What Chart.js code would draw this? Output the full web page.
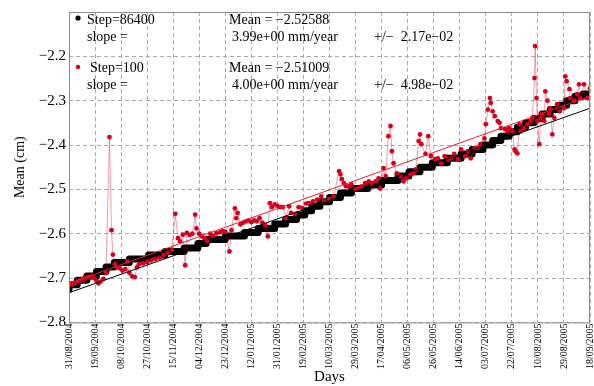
<!DOCTYPE html>
<html lang="en">
<head>
  <meta charset="UTF-8" />
  <title>Mean (cm) vs Days</title>
  <style>
    body, html { margin: 0; padding: 0; background: #fff; }
    #wrap { position: relative; width: 594px; height: 386px; }
  </style>
  <script src="https://cdn.jsdelivr.net/npm/chart.js"></script>
</head>
<body>
<div id="wrap"><canvas id="meanChart"></canvas></div>

<script>
  // tick labels (one every 19 days from 31/08/2004)
  const dateLabels = ['31/08/2004', '19/09/2004', '08/10/2004', '27/10/2004', '15/11/2004',
    '04/12/2004', '23/12/2004', '12/01/2005', '31/01/2005', '19/02/2005', '10/03/2005',
    '29/03/2005', '17/04/2005', '06/05/2005', '26/05/2005', '14/06/2005', '03/07/2005',
    '22/07/2005', '10/08/2005', '29/08/2005', '18/09/2005'];

  // Step=86400 : staircase levels (day where the level starts, value in cm)
  const stepDays = [0, 6, 13, 20, 27, 33, 44, 58, 70, 84, 94, 100, 114, 128, 138, 150, 158,
    166, 172, 177, 183, 190, 198, 206, 218, 228, 240, 248, 256, 265, 276, 286, 294, 302,
    309, 315, 321, 327, 333, 339, 345, 351, 357, 363, 369, 375, 380];
  const stepMean = [-2.725, -2.715, -2.705, -2.695, -2.685, -2.675, -2.665, -2.657, -2.648,
    -2.640, -2.632, -2.622, -2.613, -2.605, -2.597, -2.588, -2.578, -2.568, -2.558, -2.548,
    -2.538, -2.528, -2.518, -2.508, -2.498, -2.490, -2.480, -2.470, -2.460, -2.450, -2.440,
    -2.430, -2.420, -2.410, -2.400, -2.390, -2.380, -2.370, -2.360, -2.350, -2.340, -2.330,
    -2.320, -2.310, -2.300, -2.290, -2.285];

  // Step=100 : noisy series
  const redDays = [0, 2, 4, 6, 8, 10, 12, 14, 16, 18, 20, 21.5, 23, 25, 27, 29.5, 31, 32, 33.5,
    35, 37, 39, 41, 42.5, 44, 46, 48, 49.5, 51, 54, 57, 60, 63, 66, 69, 72, 75, 77.5, 79.5,
    81, 83, 84.7, 86, 88, 90, 92, 93, 95, 97, 99, 101, 103, 105, 107.5, 110, 112, 114, 117,
    118.5, 121, 122, 123, 125, 127, 129, 131, 133, 135, 137, 139, 141, 143, 145, 146.5, 148,
    150, 152, 154, 156, 158, 160.5, 162, 165, 167.5, 170, 173, 175, 178, 181, 184, 186,
    189.6, 193, 197, 198, 199, 200.5, 202, 204, 206, 209, 211, 213.5, 216, 218.6, 221,
    223.6, 225.8, 227, 229.4, 231, 233, 234.5, 235.5, 236.7, 239, 242, 244, 246, 249, 251,
    253, 255, 256, 257, 260, 262, 264, 267, 269, 271.4, 274, 276.5, 278.7, 281, 283.7, 286,
    289, 291, 293, 296, 298, 300, 303, 304, 305.5, 307, 307.6, 309, 310.5, 312.7, 314, 315,
    318, 320, 321, 323.5, 325, 325.7, 327, 328.6, 329.5, 332, 334.4, 336.6, 338, 339.5, 340,
    341, 341.6, 343, 344, 345, 346.7, 347.4, 349, 350, 351, 352.5, 354, 356, 358, 361, 362,
    363, 365, 365.5, 368.4, 370.6, 372, 372.8, 375.6, 378, 380];
  const redMean = [-2.716, -2.714, -2.712, -2.708, -2.705, -2.702, -2.700, -2.698, -2.696,
    -2.700, -2.706, -2.712, -2.708, -2.702, -2.688, -2.382, -2.592, -2.647, -2.669, -2.676,
    -2.678, -2.683, -2.680, -2.662, -2.688, -2.696, -2.698, -2.676, -2.669, -2.667, -2.664,
    -2.660, -2.657, -2.654, -2.648, -2.643, -2.636, -2.555, -2.610, -2.617, -2.602, -2.671,
    -2.598, -2.603, -2.600, -2.557, -2.588, -2.600, -2.606, -2.610, -2.617, -2.600, -2.605,
    -2.599, -2.597, -2.594, -2.595, -2.640, -2.592, -2.543, -2.565, -2.553, -2.579, -2.575,
    -2.572, -2.570, -2.574, -2.570, -2.572, -2.565, -2.575, -2.580, -2.606, -2.531, -2.540,
    -2.534, -2.537, -2.540, -2.540, -2.565, -2.538, -2.553, -2.555, -2.540, -2.542, -2.532,
    -2.531, -2.527, -2.523, -2.516, -2.527, -2.522, -2.516, -2.459, -2.466, -2.477, -2.486,
    -2.493, -2.493, -2.489, -2.500, -2.498, -2.493, -2.486, -2.482, -2.486, -2.482, -2.475,
    -2.498, -2.452, -2.470, -2.380, -2.357, -2.414, -2.441, -2.464, -2.470, -2.482, -2.475,
    -2.466, -2.464, -2.455, -2.391, -2.376, -2.398, -2.420, -2.380, -2.425, -2.432, -2.430,
    -2.441, -2.425, -2.432, -2.430, -2.420, -2.432, -2.410, -2.425, -2.414, -2.430, -2.407,
    -2.407, -2.398, -2.385, -2.353, -2.320, -2.294, -2.305, -2.324, -2.335, -2.346, -2.350,
    -2.362, -2.364, -2.369, -2.362, -2.369, -2.410, -2.414, -2.419, -2.353, -2.369, -2.362,
    -2.353, -2.346, -2.339, -2.249, -2.177, -2.294, -2.346, -2.398, -2.339, -2.330, -2.346,
    -2.279, -2.300, -2.330, -2.317, -2.376, -2.339, -2.308, -2.324, -2.317, -2.245, -2.256,
    -2.274, -2.294, -2.300, -2.285, -2.263, -2.294, -2.263, -2.294, -2.272];

  // linear fits, end points
  const fitDays = [0, 380];
  const fit86400 = [-2.733, -2.317];
  const fit100 = [-2.712, -2.290];

  const serif = '"Liberation Serif", "DejaVu Serif", serif';
  const toXY = (xs, ys) => xs.map((x, i) => ({ x: x, y: ys[i] }));
  const minus = s => String(s).replace(/-/g, '\u2212');

  // legend text block and plot frame
  const annotations = {
    id: 'annotations',
    afterDraw(chart) {
      const { ctx, chartArea } = chart;
      const L = chartArea.left, T = chartArea.top;
      ctx.save();
      ctx.strokeStyle = '#8a8a8a';
      ctx.lineWidth = 1;
      ctx.strokeRect(chartArea.left + 0.5, chartArea.top + 0.5,
        chartArea.right - chartArea.left - 1, chartArea.bottom - chartArea.top);

      ctx.fillStyle = '#000';
      ctx.beginPath(); ctx.arc(L + 9, T + 6, 2.6, 0, Math.PI * 2); ctx.fill();
      ctx.fillStyle = '#d7001f';
      ctx.beginPath(); ctx.arc(L + 9, T + 55, 2.2, 0, Math.PI * 2); ctx.fill();

      ctx.fillStyle = '#000';
      ctx.font = '14px ' + serif;
      ctx.textBaseline = 'alphabetic';
      const rows = [
        ['Step=86400', 18, 12], [minus('Mean = -2.52588'), 160, 12],
        ['slope =', 18, 29], ['3.99e+00 mm/year', 163, 29], [minus('+/-  2.17e-02'), 305, 29],
        ['Step=100', 21, 60], [minus('Mean = -2.51009'), 160, 60],
        ['slope =', 18, 77], ['4.00e+00 mm/year', 163, 77], [minus('+/-  4.98e-02'), 305, 77]
      ];
      rows.forEach(r => ctx.fillText(r[0], L + r[1], T + r[2]));
      ctx.restore();
    }
  };

  new Chart(document.getElementById('meanChart'), {
    type: 'line',
    data: {
      datasets: [
        {
          label: 'fit Step=86400',
          data: toXY(fitDays, fit86400),
          borderColor: '#000',
          borderWidth: 1,
          pointRadius: 0
        },
        {
          label: 'fit Step=100',
          data: toXY(fitDays, fit100),
          borderColor: '#e3202c',
          borderWidth: 1,
          pointRadius: 0
        },
        {
          label: 'Step=100',
          data: toXY(redDays, redMean),
          borderColor: 'rgba(215,0,31,0.55)',
          borderWidth: 0.7,
          pointRadius: 2.4,
          pointBackgroundColor: '#d7001f',
          pointBorderWidth: 0
        },
        {
          label: 'Step=86400',
          data: toXY(stepDays, stepMean),
          borderColor: '#000',
          borderWidth: 7,
          stepped: 'after',
          borderCapStyle: 'round',
          borderJoinStyle: 'round',
          pointRadius: 0
        }
      ]
    },
    options: {
      animation: false,
      responsive: true,
      maintainAspectRatio: false,
      layout: { padding: { left: 6, top: 10, right: 1, bottom: 0 } },
      plugins: {
        legend: { display: false },
        tooltip: { enabled: false }
      },
      scales: {
        x: {
          type: 'linear',
          min: 0,
          max: 380,
          grid: { color: '#aaa', drawTicks: false },
          border: { display: false, dash: [4, 3] },
          ticks: {
            stepSize: 19,
            autoSkip: false,
            minRotation: 90,
            maxRotation: 90,
            padding: 1,
            color: '#000',
            font: { family: serif, size: 10 },
            callback: (v, i) => dateLabels[i]
          },
          afterFit: scale => { scale.paddingRight = 0; scale.paddingLeft = 0; },
          title: {
            display: true,
            text: 'Days',
            color: '#000',
            font: { family: serif, size: 15, lineHeight: 1 },
            padding: { top: 0, bottom: 1 }
          }
        },
        y: {
          min: -2.8,
          max: -2.1,
          grid: { color: '#aaa', drawTicks: false },
          border: { display: false, dash: [4, 3] },
          ticks: {
            stepSize: 0.1,
            padding: 3,
            color: '#000',
            font: { family: serif, size: 15 },
            callback: v => Math.round(v * 10) === -21 ? '' : minus(v.toFixed(1))
          },
          title: {
            display: true,
            text: 'Mean (cm)',
            color: '#000',
            font: { family: serif, size: 14 },
            padding: { top: 6, bottom: 7 }
          }
        }
      }
    },
    plugins: [annotations]
  });
</script>
</body>
</html>
